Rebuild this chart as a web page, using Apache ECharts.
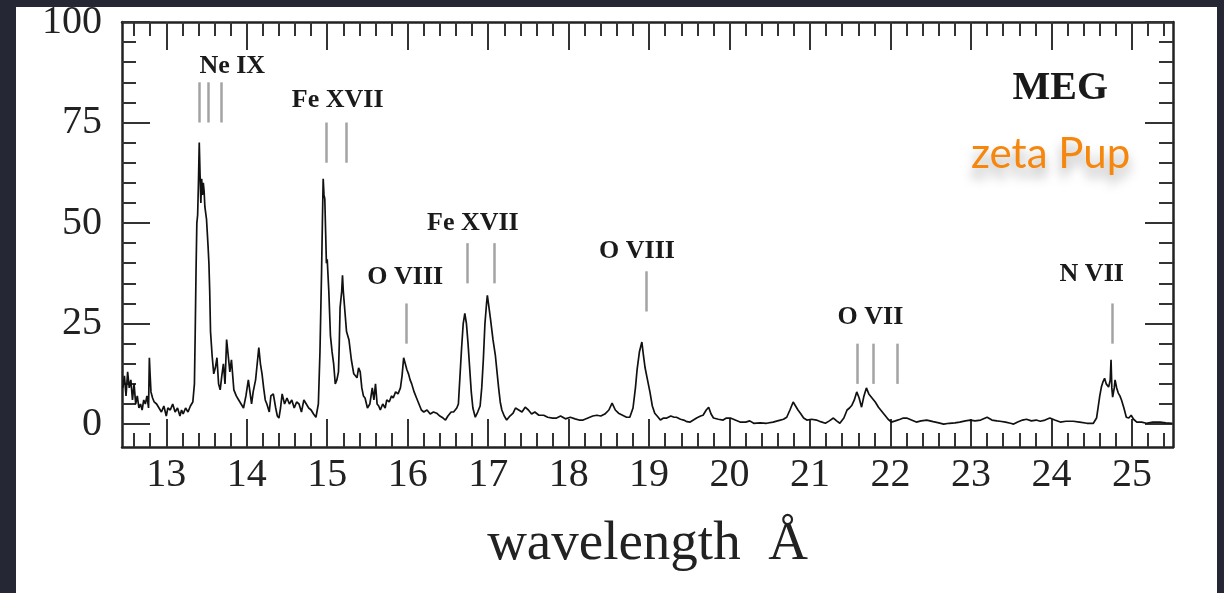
<!DOCTYPE html>
<html>
<head>
<meta charset="utf-8">
<title>MEG spectrum - zeta Pup</title>
<script src="https://cdn.jsdelivr.net/npm/echarts@6/dist/echarts.min.js"></script>
<style>
  html, body {
    margin: 0;
    padding: 0;
    background: #252834;
  }
  .panel {
    position: absolute;
    left: 16px;
    top: 7px;
    width: 1201px;
    height: 586px;
    background: #fff;
  }
  #chart {
    position: absolute;
    left: 0;
    top: 0;
    width: 1224px;
    height: 593px;
  }
</style>
</head>
<body>
<div class="panel"></div>
<div id="chart"></div>
<script>
// spectrum: wavelength (A) and counts
const wavelength = [
  12.46, 12.48, 12.50, 12.52, 12.54, 12.56, 12.58, 12.60, 12.62, 12.64, 12.66, 12.68, 12.70, 12.72, 12.74, 12.76, 12.78, 12.79, 12.80, 12.81,
  12.83, 12.85, 12.88, 12.91, 12.94, 12.97, 13.00, 13.02, 13.05, 13.08, 13.11, 13.14, 13.17, 13.19, 13.21, 13.24, 13.27, 13.30, 13.33, 13.35,
  13.36, 13.37, 13.38, 13.39, 13.40, 13.41, 13.42, 13.43, 13.44, 13.45, 13.46, 13.47, 13.48, 13.50, 13.52, 13.53, 13.54, 13.55, 13.57, 13.59,
  13.61, 13.63, 13.65, 13.67, 13.69, 13.71, 13.73, 13.75, 13.77, 13.79, 13.81, 13.84, 13.87, 13.90, 13.93, 13.96, 13.99, 14.02, 14.04, 14.06,
  14.08, 14.11, 14.13, 14.15, 14.17, 14.19, 14.21, 14.23, 14.25, 14.28, 14.30, 14.33, 14.36, 14.38, 14.40, 14.42, 14.44, 14.47, 14.50, 14.53,
  14.56, 14.59, 14.62, 14.65, 14.68, 14.71, 14.74, 14.77, 14.80, 14.83, 14.86, 14.89, 14.91, 14.92, 14.93, 14.94, 14.95, 14.96, 14.97, 14.98,
  14.99, 15.00, 15.02, 15.04, 15.06, 15.08, 15.10, 15.12, 15.14, 15.15, 15.16, 15.18, 15.19, 15.20, 15.22, 15.24, 15.27, 15.30, 15.33, 15.35,
  15.37, 15.39, 15.41, 15.43, 15.45, 15.47, 15.50, 15.53, 15.56, 15.58, 15.60, 15.62, 15.64, 15.66, 15.69, 15.72, 15.74, 15.77, 15.80, 15.82,
  15.85, 15.88, 15.91, 15.93, 15.95, 15.97, 15.99, 16.01, 16.03, 16.05, 16.08, 16.11, 16.14, 16.17, 16.20, 16.24, 16.28, 16.32, 16.36, 16.40,
  16.44, 16.47, 16.50, 16.54, 16.57, 16.61, 16.63, 16.65, 16.67, 16.69, 16.71, 16.73, 16.75, 16.77, 16.79, 16.81, 16.84, 16.87, 16.90, 16.92,
  16.94, 16.96, 16.98, 16.99, 17.01, 17.03, 17.06, 17.09, 17.11, 17.13, 17.15, 17.17, 17.20, 17.23, 17.27, 17.31, 17.34, 17.38, 17.42, 17.46,
  17.50, 17.54, 17.58, 17.63, 17.69, 17.74, 17.80, 17.85, 17.90, 17.96, 18.02, 18.08, 18.13, 18.18, 18.24, 18.30, 18.35, 18.40, 18.45, 18.50,
  18.54, 18.58, 18.62, 18.67, 18.72, 18.76, 18.80, 18.83, 18.85, 18.88, 18.91, 18.93, 18.95, 18.98, 19.01, 19.04, 19.07, 19.10, 19.14, 19.18,
  19.22, 19.27, 19.31, 19.34, 19.39, 19.43, 19.47, 19.51, 19.55, 19.59, 19.64, 19.67, 19.71, 19.74, 19.77, 19.80, 19.86, 19.92, 19.96, 20.01,
  20.07, 20.13, 20.20, 20.25, 20.30, 20.38, 20.46, 20.54, 20.63, 20.67, 20.71, 20.75, 20.79, 20.82, 20.85, 20.88, 20.92, 20.96, 21.02, 21.08,
  21.13, 21.19, 21.24, 21.29, 21.33, 21.37, 21.42, 21.46, 21.49, 21.52, 21.55, 21.58, 21.61, 21.64, 21.67, 21.70, 21.73, 21.77, 21.81, 21.85,
  21.89, 21.93, 21.97, 22.01, 22.06, 22.12, 22.16, 22.20, 22.26, 22.32, 22.38, 22.45, 22.53, 22.60, 22.66, 22.73, 22.80, 22.86, 22.93, 22.99,
  23.05, 23.12, 23.20, 23.26, 23.32, 23.36, 23.43, 23.49, 23.53, 23.58, 23.64, 23.69, 23.75, 23.81, 23.86, 23.92, 23.98, 24.04, 24.11, 24.18,
  24.27, 24.35, 24.44, 24.52, 24.56, 24.58, 24.60, 24.62, 24.64, 24.66, 24.68, 24.71, 24.73, 24.74, 24.75, 24.76, 24.78, 24.79, 24.81, 24.83,
  24.85, 24.87, 24.90, 24.93, 24.96, 24.99, 25.02, 25.06, 25.12, 25.18, 25.26, 25.35, 25.42, 25.50
]
const counts = [
  9, 12, 7, 13, 9, 11, 6, 10, 5, 7, 4, 5, 3.5, 6, 5, 7, 4, 16.5, 12, 8,
  6.5, 5.5, 5, 4, 3, 4.5, 2, 4, 3.5, 5, 3, 4, 2, 3.5, 2.5, 4, 3, 4.5, 5.5, 10,
  23, 38, 50, 52, 60, 70, 62, 55, 61, 57, 60, 58, 54, 51, 44, 40, 33, 23, 17, 12.5,
  14, 16.5, 10, 8.5, 12, 15, 10, 21, 17, 13, 16, 8.5, 7, 6, 5, 4, 7, 11, 8, 5,
  8, 11, 15, 19, 15, 12.5, 9, 6, 5, 3, 7, 7.5, 4, 2, 1.5, 4, 7.5, 5, 6.5, 5,
  6, 4, 5.5, 5, 3, 6, 5, 4, 3.5, 2.5, 1.7, 5, 18, 28, 38, 50, 61, 57, 56, 48,
  40, 41, 33, 22, 18, 15, 10, 11, 13, 20, 29, 33, 37, 33, 28, 23, 21, 16, 12.5, 12,
  11.5, 14, 13, 9, 7, 6.5, 4, 5, 9, 6, 10, 5, 4.5, 3.5, 5, 4, 6, 5.5, 7, 6.5,
  8, 7.5, 9, 12, 16.5, 15, 13.5, 12.5, 11, 10, 8, 6.5, 5, 3.5, 3, 3.5, 2.5, 3, 2.7, 2,
  1.5, 1, 2, 3, 3, 4, 5, 12, 19, 25, 27.5, 25, 20, 14, 8, 4, 1.7, 3, 4.5, 9,
  16, 25, 30, 32, 29, 26, 21, 17, 13, 9, 5.5, 3.5, 2, 1, 2, 2.7, 4, 3.5, 3, 4.2,
  3.5, 2.5, 3, 2.2, 2.2, 1.7, 1.5, 1.5, 2, 1.3, 1.7, 1.3, 1, 1, 1.5, 2, 2.2, 2, 2.5, 3.5,
  5.2, 3.5, 2.7, 2.2, 1.7, 1.7, 4, 9, 13.4, 18, 20.4, 17, 14, 11, 8, 4.5, 2.7, 2, 1, 1.5,
  1.5, 2, 1.7, 1.7, 1.2, 1, 0.6, 0.5, 1, 1.5, 2, 2.2, 3.5, 4.2, 2.5, 1.5, 1.2, 1, 1.5, 1.5,
  1, 0.5, 0.5, 0.8, 0.2, 0.3, 0.2, 0.5, 1, 1.2, 1.7, 3.5, 5.5, 4.5, 3.5, 2.7, 1.5, 1, 1.2, 1,
  0.6, 0.2, 0.8, 1.5, 0.8, 0.2, 1.5, 3.5, 4, 4.7, 6, 8, 6.5, 4.2, 7, 9, 7.5, 6.5, 5.5, 4.2,
  3.2, 2.2, 1.2, 0.5, 0.8, 1.2, 1.5, 1.5, 1, 0.5, 0.8, 1, 0.6, 0.3, 0, 0.2, 0.3, 0.5, 0.8, 1,
  0.8, 1, 1.7, 1, 0.8, 0.7, 0.5, 0.2, 0, 0.5, 1, 1.2, 0.8, 1, 0.7, 1, 1.5, 1, 0.5, 0.7,
  0.7, 0.5, 0.2, 0.2, 1.5, 4.2, 7, 9.2, 10.5, 11.4, 10, 9.2, 11, 16, 9, 6.7, 9, 11, 9, 7.7,
  7, 6, 4, 1.7, 1.5, 2.2, 1.2, 0.5, 0.5, 0.2, 0.5, 0.5, 0.3, 0.2
]

// line identifications (grey markers) and their labels
const markerWl = [13.41, 13.52, 13.68, 14.99, 15.24, 15.98, 16.74, 17.07, 18.96, 21.59, 21.78, 22.08, 24.76]
const markerLo = [75, 75, 75, 65, 65, 20, 35, 35, 28, 10, 10, 10, 20]
const markerHi = [85, 85, 85, 75, 75, 30, 45, 45, 38, 20, 20, 20, 30]
const ionNames = ['Ne IX', 'Fe XVII', 'O VIII', 'Fe XVII', 'O VIII', 'O VII', 'N VII', 'MEG']
const ionWl = [13.82, 15.13, 15.97, 16.81, 18.85, 21.75, 24.50, 24.11]
const ionY = [89, 80.6, 36.4, 50, 43, 26.6, 37.3, 83.3]

const xTickLabels = [13, 14, 15, 16, 17, 18, 19, 20, 21, 22, 23, 24, 25]
const yTickLabels = [0, 25, 50, 75, 100]

const X_MIN = 12.45
const X_MAX = 25.51
const Y_MIN = -5.7
const Y_MAX = 100

// minor ticks every 0.2 A and every 5 counts
const xMinor = []
for (let i = 63; i <= 127; i++) xMinor.push(+(i * 0.2).toFixed(1))
const yMinor = []
for (let v = 5; v < 100; v += 5) yMinor.push(v)

const serif = '"Liberation Serif", "DejaVu Serif", serif'
const ink = '#222'

const makeX = (position, values, len, withLabels, withLine) => ({
  type: 'value',
  position: position,
  min: X_MIN,
  max: X_MAX,
  axisLine: { show: withLine, onZero: false, lineStyle: { color: ink, width: 2.5 } },
  axisTick: { show: true, inside: true, length: len, customValues: values, lineStyle: { color: '#333', width: 2 } },
  axisLabel: withLabels
    ? { show: true, customValues: xTickLabels, margin: 8, fontSize: 40, fontFamily: serif, color: ink }
    : { show: false },
  splitLine: { show: false }
})

const makeY = (position, values, len, withLabels, withLine) => ({
  type: 'value',
  position: position,
  min: Y_MIN,
  max: Y_MAX,
  axisLine: { show: withLine, onZero: false, lineStyle: { color: ink, width: 2.5 } },
  axisTick: { show: true, inside: true, length: len, customValues: values, lineStyle: { color: '#333', width: 2 } },
  axisLabel: withLabels
    ? { show: true, customValues: yTickLabels, margin: 20, fontSize: 40, fontFamily: serif, color: ink }
    : { show: false },
  splitLine: { show: false }
})

const xAxes = [
  makeX('bottom', xTickLabels, 28, true, true),
  makeX('bottom', xMinor, 14, false, false),
  makeX('top', xTickLabels, 28, false, true),
  makeX('top', xMinor, 14, false, false)
]
xAxes[0].name = 'wavelength  Å'
xAxes[0].nameLocation = 'middle'
xAxes[0].nameGap = 70
xAxes[0].nameTextStyle = { fontSize: 55, fontFamily: serif, color: ink }

const yAxes = [
  makeY('left', yTickLabels, 28, true, true),
  makeY('left', yMinor, 14, false, false),
  makeY('right', yTickLabels, 28, false, true),
  makeY('right', yMinor, 14, false, false)
]

const chart = echarts.init(document.getElementById('chart'))

const option = {
  animation: false,
  backgroundColor: 'transparent',
  title: {
    text: 'zeta Pup',
    left: 966,
    top: 128,
    textStyle: {
      fontSize: 42,
      fontWeight: 'normal',
      fontFamily: 'Lato, "Open Sans", sans-serif',
      color: '#f5870f',
      textShadowColor: 'rgba(0, 0, 0, 0.35)',
      textShadowBlur: 12,
      textShadowOffsetY: 9
    }
  },
  grid: {
    left: 122,
    right: 51,
    top: 22,
    bottom: 146
  },
  xAxis: xAxes,
  yAxis: yAxes,
  series: [
    {
      name: 'MEG',
      type: 'line',
      xAxisIndex: 0,
      yAxisIndex: 0,
      data: wavelength.map((w, i) => [w, counts[i]]),
      showSymbol: false,
      lineStyle: { color: '#111', width: 1.7 },
      markLine: {
        silent: true,
        symbol: 'none',
        label: { show: false },
        lineStyle: { color: '#a3a3a3', width: 2.5, type: 'solid' },
        data: markerWl.map((w, i) => [
          { coord: [w, markerLo[i]] },
          { coord: [w, markerHi[i]] }
        ])
      },
      z: 3
    },
    {
      name: 'ions',
      type: 'scatter',
      xAxisIndex: 0,
      yAxisIndex: 0,
      symbolSize: 0,
      silent: true,
      itemStyle: { opacity: 1 },
      data: ionNames.map((n, i) => ({
        name: n,
        value: [ionWl[i], ionY[i]],
        label: n === 'MEG' ? { fontSize: 40 } : {}
      })),
      label: {
        show: true,
        position: 'inside',
        formatter: '{b}',
        fontSize: 26,
        fontWeight: 'bold',
        fontFamily: serif,
        color: '#1a1a1a',
        opacity: 1
      }
    }
  ]
}

chart.setOption(option)
</script>
</body>
</html>
